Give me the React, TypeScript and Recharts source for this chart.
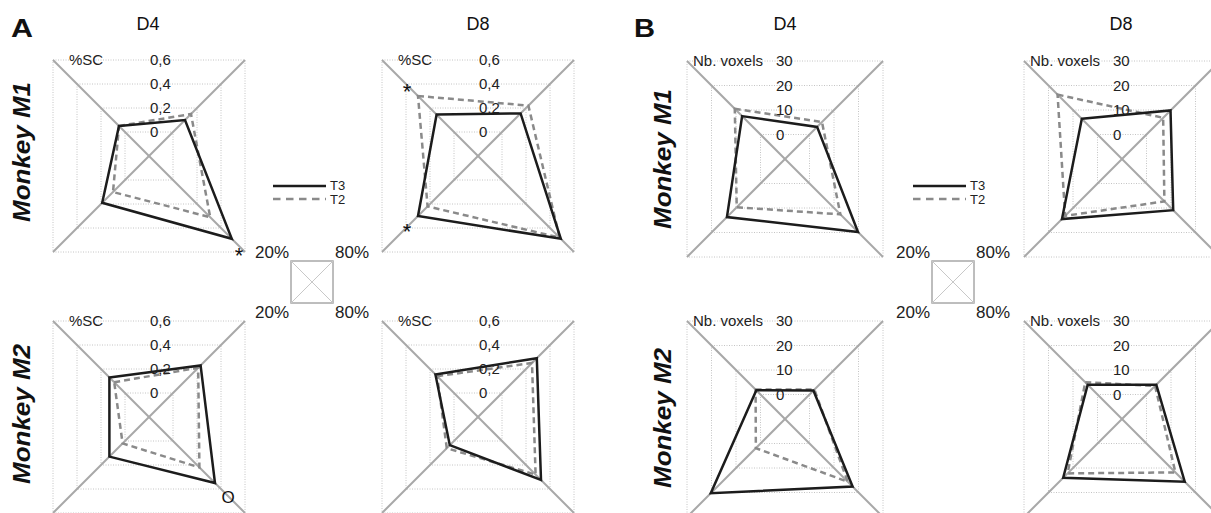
import React from "react";
import {
  RadarChart,
  Radar,
  PolarGrid,
  PolarAngleAxis,
  PolarRadiusAxis,
} from "recharts";

// the four spokes, drawn clockwise from the upper-left diagonal
const corners = ["UL", "UR", "LR", "LL"];
const cornerLabels = ["20%", "80%", "80%", "20%"];
const series = ["T3", "T2"];

// A: %SC (signal change)
const scM1D4T3 = [0.05, 0.1, 0.49, 0.19];
const scM1D4T2 = [0.05, 0.15, 0.31, 0.1];
const scM1D8T3 = [0.145, 0.155, 0.49, 0.3];
const scM1D8T2 = [0.3, 0.22, 0.48, 0.22];
const scM2D4T3 = [0.13, 0.23, 0.35, 0.13];
const scM2D4T2 = [0.09, 0.21, 0.22, 0.02];
const scM2D8T3 = [0.155, 0.29, 0.325, 0.035];
const scM2D8T2 = [0.14, 0.25, 0.28, 0.06];

// B: number of voxels
const voxM1D4T3 = [7.5, 3.1, 19.8, 13.7];
const voxM1D4T2 = [10.5, 5.1, 12.6, 9.7];
const voxM1D8T3 = [6.4, 9.8, 10.9, 14.5];
const voxM1D8T2 = [16.3, 6.8, 7.3, 13.2];
const voxM2D4T3 = [1.7, 1.6, 17.6, 20.3];
const voxM2D4T2 = [2, 2, 15.6, 1.9];
const voxM2D8T3 = [4, 4, 15.6, 14];
const voxM2D8T2 = [5, 3.5, 11.8, 12.2];

const scDomain: [number, number] = [-0.2, 0.6];
const voxDomain: [number, number] = [-10, 30];

const FONT = "'Liberation Sans', Arial, Helvetica, sans-serif";
const BOX = 300;
const C = BOX / 2;

const rows = (t3: number[], t2: number[]) =>
  corners.map((c, i) => ({ corner: c, T3: t3[i], T2: t2[i] }));

const fmtSc = (v: number) =>
  Math.abs(v) < 1e-9 ? "0" : v.toFixed(1).replace(".", ",");
const fmtVox = (v: number) => String(Math.round(v));

interface PanelProps {
  x: number;
  y: number;
  half: number;
  domain: [number, number];
  t3: number[];
  t2: number[];
  unit: string;
  unitDx: number;
  tickDx: number;
  fmt: (v: number) => string;
}

function Panel({ x, y, half, domain, t3, t2, unit, unitDx, tickDx, fmt }: PanelProps) {
  const renderTick = (props: any) => {
    const v = Number(props.payload?.value);
    if (!(v > domain[0] + 1e-9)) return <g />;
    const top = Math.abs(v - domain[1]) < 1e-9;
    return (
      <g>
        <text
          x={C + tickDx}
          y={props.y}
          dy="0.35em"
          fontSize={15}
          fontFamily={FONT}
          fill="#222"
        >
          {fmt(v)}
        </text>
        {top && (
          <text
            x={C + unitDx}
            y={props.y}
            dy="0.35em"
            fontSize={15}
            fontFamily={FONT}
            fill="#222"
          >
            {unit}
          </text>
        )}
      </g>
    );
  };

  return (
    <div style={{ position: "absolute", left: x - C, top: y - C }}>
      <RadarChart
        width={BOX}
        height={BOX}
        cx={C}
        cy={C}
        outerRadius={half * Math.SQRT2}
        startAngle={135}
        endAngle={-225}
        data={rows(t3, t2)}
        margin={{ top: 0, right: 0, bottom: 0, left: 0 }}
      >
        <PolarGrid
          gridType="polygon"
          radialLines={false}
          stroke="#c4c4c4"
          strokeDasharray="1 1.5"
        />
        <PolarGrid gridType="polygon" polarRadius={[]} stroke="#a8a8a8" strokeWidth={2} />
        <PolarAngleAxis dataKey="corner" tick={false} axisLine={false} />
        <PolarRadiusAxis
          type="number"
          angle={45}
          domain={domain}
          tickCount={5}
          allowDecimals={true}
          axisLine={false}
          tickLine={false}
          tick={renderTick}
        />
        <Radar
          dataKey="T2"
          stroke="#8a8a8a"
          strokeWidth={2.5}
          strokeDasharray="6 4"
          fill="none"
          fillOpacity={0}
          dot={false}
          isAnimationActive={false}
        />
        <Radar
          dataKey="T3"
          stroke="#1c1c1c"
          strokeWidth={2.5}
          fill="none"
          fillOpacity={0}
          dot={false}
          isAnimationActive={false}
        />
      </RadarChart>
    </div>
  );
}

function Legend({ x }: { x: number }) {
  return (
    <g fontFamily={FONT} fontSize={13} fill="#222">
      <line x1={x} x2={x + 53} y1={186} y2={186} stroke="#1c1c1c" strokeWidth={2.5} />
      <text x={x + 57} y={185} dy="0.35em">{series[0]}</text>
      <line
        x1={x}
        x2={x + 53}
        y1={199}
        y2={199}
        stroke="#8a8a8a"
        strokeWidth={2.5}
        strokeDasharray="7.5 5.5"
      />
      <text x={x + 57} y={199} dy="0.35em">{series[1]}</text>
    </g>
  );
}

function Key({ x }: { x: number }) {
  const s = 42;
  const ty = 252;
  const by = 312;
  return (
    <g fontFamily={FONT} fontSize={17} fill="#222">
      <rect x={x} y={261} width={s} height={s} fill="none" stroke="#a8a8a8" strokeWidth={1.5} />
      <line x1={x} y1={261} x2={x + s} y2={261 + s} stroke="#c8c8c8" />
      <line x1={x + s} y1={261} x2={x} y2={261 + s} stroke="#c8c8c8" />
      <text x={x - 2} y={ty} dy="0.35em" textAnchor="end">{cornerLabels[0]}</text>
      <text x={x + s + 2} y={ty} dy="0.35em">{cornerLabels[1]}</text>
      <text x={x + s + 2} y={by} dy="0.35em">{cornerLabels[2]}</text>
      <text x={x - 2} y={by} dy="0.35em" textAnchor="end">{cornerLabels[3]}</text>
    </g>
  );
}

const rowLabel = (x: number, y: number, t: string) => (
  <text
    x={x}
    y={y}
    transform={`rotate(-90 ${x} ${y})`}
    textAnchor="middle"
    dy="0.35em"
    fontFamily={FONT}
    fontSize={24}
    fontWeight="bold"
    fontStyle="italic"
    fill="#111"
    textLength={140}
    lengthAdjust="spacingAndGlyphs"
  >
    {t}
  </text>
);

export default function App() {
  const A = { half: 96, domain: scDomain, unit: "%SC", unitDx: -80, tickDx: 1, fmt: fmtSc };
  const B = { half: 98, domain: voxDomain, unit: "Nb. voxels", unitDx: -92, tickDx: -9, fmt: fmtVox };
  return (
    <div
      style={{
        position: "absolute",
        left: 0,
        top: 0,
        width: 1211,
        height: 513,
        overflow: "hidden",
        background: "#fff",
      }}
    >
      <svg width={1211} height={513} style={{ position: "absolute", left: 0, top: 0 }}>
        <g fontFamily={FONT} fill="#111">
          <text x={11} y={37} fontSize={25} fontWeight="bold" textLength={22} lengthAdjust="spacingAndGlyphs">A</text>
          <text x={634} y={37} fontSize={25} fontWeight="bold" textLength={21} lengthAdjust="spacingAndGlyphs">B</text>
          <text x={148} y={30} fontSize={18} textAnchor="middle">D4</text>
          <text x={478} y={30} fontSize={18} textAnchor="middle">D8</text>
          <text x={785} y={30} fontSize={18} textAnchor="middle">D4</text>
          <text x={1121} y={30} fontSize={18} textAnchor="middle">D8</text>
        </g>
        {rowLabel(22, 152, "Monkey M1")}
        {rowLabel(22, 414, "Monkey M2")}
        {rowLabel(663, 159, "Monkey M1")}
        {rowLabel(663, 418, "Monkey M2")}
        <Legend x={273} />
        <Legend x={913} />
        <Key x={291} />
        <Key x={932} />
      </svg>

      <Panel x={148.5} y={156} {...A} t3={scM1D4T3} t2={scM1D4T2} />
      <Panel x={478} y={156} {...A} t3={scM1D8T3} t2={scM1D8T2} />
      <Panel x={148.5} y={417} {...A} t3={scM2D4T3} t2={scM2D4T2} />
      <Panel x={478} y={417} {...A} t3={scM2D8T3} t2={scM2D8T2} />
      <Panel x={785} y={159} {...B} t3={voxM1D4T3} t2={voxM1D4T2} />
      <Panel x={1122} y={159} {...B} t3={voxM1D8T3} t2={voxM1D8T2} />
      <Panel x={785} y={419} {...B} t3={voxM2D4T3} t2={voxM2D4T2} />
      <Panel x={1122} y={419} {...B} t3={voxM2D8T3} t2={voxM2D8T2} />

      <svg
        width={1211}
        height={513}
        style={{ position: "absolute", left: 0, top: 0, pointerEvents: "none" }}
      >
        <g fontFamily={FONT} fill="#111" textAnchor="middle">
          <text x={239} y={250} dy="0.6em" fontSize={22}>*</text>
          <text x={407} y={86} dy="0.6em" fontSize={22}>*</text>
          <text x={407} y={226} dy="0.6em" fontSize={22}>*</text>
          <text x={228} y={497} dy="0.35em" fontSize={17}>O</text>
        </g>
      </svg>
    </div>
  );
}
